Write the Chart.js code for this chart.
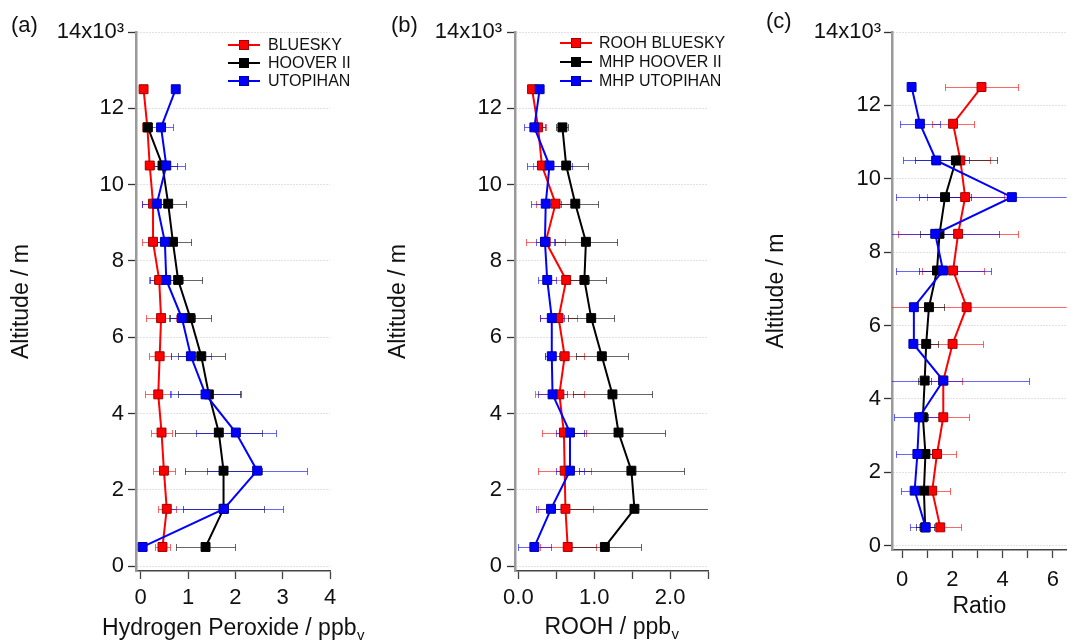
<!DOCTYPE html>
<html><head><meta charset="utf-8">
<script src="https://cdn.jsdelivr.net/npm/chart.js@4.4.1/dist/chart.umd.min.js"></script>
<style>
html,body{margin:0;padding:0;background:#fff;}
#wrap{position:relative;width:1074px;height:641px;overflow:hidden;background:#fff;}
canvas{position:absolute;left:0;top:0;}
</style></head><body>
<div id="wrap">
<canvas id="ca" width="1074" height="641"></canvas>
<canvas id="cb" width="1074" height="641"></canvas>
<canvas id="cc" width="1074" height="641"></canvas>
</div>
<script>
// ---------- DATA ----------
const altitude = [500, 1500, 2500, 3500, 4500, 5500, 6500, 7500, 8500, 9500, 10500, 11500, 12500];
const altTicks = [0, 2000, 4000, 6000, 8000, 10000, 12000, 14000];

// (a) Hydrogen peroxide / ppbv
const h2o2Labels = ['BLUESKY', 'HOOVER II', 'UTOPIHAN'];
const h2o2Bluesky     = [0.46, 0.55, 0.49, 0.44, 0.37, 0.40, 0.43, 0.39, 0.26, 0.26, 0.19, 0.14, 0.06];
const h2o2BlueskyErr  = [0.16, 0.19, 0.23, 0.23, 0.27, 0.23, 0.31, 0.21, 0.23, 0.23, 0.10, 0.08, 0];
const h2o2Hoover      = [1.37, 1.75, 1.75, 1.65, 1.44, 1.28, 1.05, 0.79, 0.68, 0.58, 0.46, 0.15, null];
const h2o2HooverErr   = [0.62, 0.85, 0.82, 0.92, 0.65, 0.50, 0.43, 0.50, 0.39, 0.37, 0.30, 0.05, null];
const h2o2Utopihan    = [0.04, 1.76, 2.46, 2.01, 1.37, 1.06, 0.87, 0.54, 0.51, 0.34, 0.54, 0.43, 0.74];
const h2o2UtopihanErr = [0, 1.25, 1.05, 0.84, 0.75, 0.42, 0.27, 0.35, 0.25, 0.31, 0.40, 0.26, 0];
const xTicksA = [0, 1, 2, 3, 4];

// (b) ROOH / ppbv
const roohLabels = ['ROOH BLUESKY', 'MHP HOOVER II', 'MHP UTOPIHAN'];
const roohBluesky     = [0.65, 0.62, 0.61, 0.60, 0.54, 0.61, 0.53, 0.63, 0.36, 0.49, 0.31, 0.26, 0.18];
const roohBlueskyErr  = [0.37, 0.36, 0.35, 0.29, 0.32, 0.26, 0.24, 0.30, 0.26, 0.26, 0.12, 0.10, 0];
const roohHoover      = [1.14, 1.53, 1.49, 1.32, 1.24, 1.10, 0.96, 0.87, 0.89, 0.75, 0.63, 0.58, null];
const roohHooverErr   = [0.47, 1.05, 0.69, 0.61, 0.52, 0.34, 0.30, 0.28, 0.41, 0.30, 0.29, 0.08, null];
const roohUtopihan    = [0.21, 0.43, 0.68, 0.68, 0.45, 0.44, 0.44, 0.38, 0.35, 0.36, 0.41, 0.21, 0.28];
const roohUtopihanErr = [0.22, 0.20, 0.18, 0.19, 0.19, 0.09, 0.16, 0.12, 0.12, 0.20, 0.30, 0.14, 0];
const xTicksB = [0, 0.5, 1, 1.5, 2, 2.5];

// (c) Ratio
const ratioLabels = ['BLUESKY', 'HOOVER II', 'UTOPIHAN'];
const ratioBluesky     = [1.52, 1.20, 1.39, 1.64, 1.64, 2.01, 2.57, 2.03, 2.23, 2.51, 2.32, 2.03, 3.16];
const ratioBlueskyErr  = [0.84, 0.71, 0.75, 1.03, 0.76, 1.22, 4.00, 1.24, 2.39, 1.53, 1.18, 0.84, 1.46];
const ratioHoover      = [0.92, 0.87, 0.93, 0.83, 0.90, 0.96, 1.07, 1.39, 1.49, 1.71, 2.14, null, null];
const ratioHooverErr   = [0.36, 0.30, 0.25, 0.20, 0.25, 0.48, 0.59, 0.71, 0.78, 1.03, 1.64, null, null];
const ratioUtopihan    = [0.94, 0.50, 0.61, 0.68, 1.64, 0.45, 0.47, 1.63, 1.32, 4.37, 1.36, 0.71, 0.38];
const ratioUtopihanErr = [0.64, 0.55, 0.84, 1.00, 3.41, 0, 0, 1.89, 2.55, 4.62, 1.31, 0.79, 0];
const xTicksC = [0, 1, 2, 3, 4, 5, 6];

// ---------- STYLE ----------
const FONT = "'Liberation Sans', Arial, sans-serif";
Chart.defaults.font.family = FONT;
Chart.defaults.color = '#111';

const COLORS = [
  {line: '#ff0000', pt: '#ff0000', ptBorder: '#a00000', err: 'rgba(255,0,0,0.6)'},
  {line: '#000000', pt: '#000000', ptBorder: '#000000', err: 'rgba(0,0,0,0.6)'},
  {line: '#0000ff', pt: '#0000ff', ptBorder: '#0000a0', err: 'rgba(0,0,255,0.6)'}
];

function series(label, vals, errs, idx) {
  const c = COLORS[idx];
  return {
    label,
    order: 3 - idx,
    data: altitude.map((a, i) => vals[i] == null ? null : {x: vals[i], y: a, err: errs[i]}).filter(Boolean),
    showLine: true,
    borderColor: c.line, backgroundColor: c.pt, borderWidth: 2,
    pointStyle: 'rect', pointRadius: 6.3, pointHoverRadius: 6.3,
    pointBackgroundColor: c.pt, pointBorderColor: c.ptBorder, pointBorderWidth: 1,
    tension: 0, fill: false,
    errColor: c.err
  };
}

const errorBarPlugin = {
  id: 'errorBars',
  beforeDatasetsDraw(chart) {
    const {ctx, chartArea} = chart;
    const xs = chart.scales.x, ys = chart.scales.y;
    ctx.save();
    ctx.beginPath();
    ctx.rect(chartArea.left, chartArea.top, chartArea.right - chartArea.left, chartArea.bottom - chartArea.top);
    ctx.clip();
    chart.data.datasets.forEach(ds => {
      ctx.strokeStyle = ds.errColor;
      ctx.lineWidth = 1;
      ds.data.forEach(p => {
        if (!p.err) return;
        const y = Math.round(ys.getPixelForValue(p.y)) + 0.5;
        const x1 = Math.round(xs.getPixelForValue(p.x - p.err)) + 0.5;
        const x2 = Math.round(xs.getPixelForValue(p.x + p.err)) + 0.5;
        ctx.beginPath();
        ctx.moveTo(x1, y); ctx.lineTo(x2, y);
        ctx.moveTo(x1, y - 3.5); ctx.lineTo(x1, y + 3.5);
        ctx.moveTo(x2, y - 3.5); ctx.lineTo(x2, y + 3.5);
        ctx.stroke();
      });
    });
    ctx.restore();
  }
};

const legendPlugin = {
  id: 'boxLegend',
  afterDraw(chart, args, opts) {
    if (!opts || !opts.show) return;
    const ctx = chart.ctx;
    ctx.save();
    ctx.font = '16px ' + FONT;
    ctx.textBaseline = 'middle';
    ctx.textAlign = 'left';
    chart.data.datasets.forEach((ds, i) => {
      const y = opts.rows[i];
      ctx.strokeStyle = ds.borderColor; ctx.lineWidth = 2;
      ctx.beginPath(); ctx.moveTo(opts.x0, y); ctx.lineTo(opts.x1, y); ctx.stroke();
      const cx = (opts.x0 + opts.x1) / 2;
      ctx.fillStyle = ds.pointBackgroundColor;
      ctx.fillRect(cx - 4.5, y - 4.5, 9, 9);
      ctx.strokeStyle = ds.pointBorderColor; ctx.lineWidth = 1;
      ctx.strokeRect(cx - 4.5, y - 4.5, 9, 9);
      ctx.fillStyle = '#111';
      ctx.fillText(ds.label, opts.tx, y + 1);
    });
    ctx.restore();
  }
};

const panelLabelPlugin = {
  id: 'panelLabel',
  afterDraw(chart, args, opts) {
    if (!opts || !opts.text) return;
    const ctx = chart.ctx;
    ctx.save();
    ctx.font = '22px ' + FONT;
    ctx.fillStyle = '#111';
    ctx.textBaseline = 'alphabetic';
    ctx.textAlign = 'left';
    ctx.fillText(opts.text, opts.x, opts.y);
    ctx.restore();
  }
};

// x-axis title with an optional subscript, centred under the chart area
const xTitlePlugin = {
  id: 'xTitle',
  afterDraw(chart, args, opts) {
    if (!opts || !opts.text) return;
    const ctx = chart.ctx;
    const ca = chart.chartArea;
    ctx.save();
    ctx.fillStyle = '#111';
    ctx.textBaseline = 'alphabetic';
    ctx.textAlign = 'left';
    const mainFont = '23px ' + FONT, subFont = '15px ' + FONT;
    ctx.font = mainFont;
    const w1 = ctx.measureText(opts.text).width;
    let w2 = 0;
    if (opts.sub) { ctx.font = subFont; w2 = ctx.measureText(opts.sub).width; }
    const x0 = (ca.left + ca.right) / 2 - (w1 + w2) / 2;
    ctx.font = mainFont;
    ctx.fillText(opts.text, x0, opts.y);
    if (opts.sub) { ctx.font = subFont; ctx.fillText(opts.sub, x0 + w1 + 0.5, opts.y + 5); }
    ctx.restore();
  }
};

function makePanel(id, p) {
  return new Chart(document.getElementById(id), {
    type: 'scatter',
    data: {datasets: p.datasets},
    plugins: [errorBarPlugin, legendPlugin, panelLabelPlugin, xTitlePlugin],
    options: {
      responsive: false, animation: false, devicePixelRatio: 1,
      layout: {padding: {left: p.padLeft, right: p.padRight, top: 32, bottom: 0}},
      plugins: {
        legend: {display: false}, tooltip: {enabled: false},
        boxLegend: p.legend, panelLabel: p.panel, xTitle: p.xTitle
      },
      scales: {
        x: {
          type: 'linear', min: p.xMin, max: p.xMax,
          afterBuildTicks: s => { s.ticks = p.xTicks.map(v => ({value: v})); },
          afterFit: s => { s.height = p.xH; },
          ticks: {font: {size: 22}, color: '#111', padding: p.xTickPad, maxRotation: 0, autoSkip: false, callback: p.xFmt},
          grid: {drawOnChartArea: false, color: '#444', tickColor: '#444', tickLength: 8, tickWidth: 1.3},
          border: {color: '#444', width: 1.5},
          title: {display: false}
        },
        y: {
          type: 'linear', min: p.yMin, max: 14000,
          afterBuildTicks: s => { s.ticks = altTicks.map(v => ({value: v})); },
          afterFit: s => { s.width = p.yW; },
          ticks: {font: {size: 22}, color: '#111', padding: p.yTickPad, autoSkip: false,
                  callback: v => v === 14000 ? '14x10\u00B3' : String(v / 1000)},
          grid: {color: '#c4c4c4', lineWidth: 1, tickColor: '#333', tickLength: 8, tickWidth: 1.3},
          border: {color: '#9a9a9a', width: 2.5, dash: [1, 2]},
          title: {display: true, text: 'Altitude / m', font: {size: 23}, color: '#111', padding: {top: 4, bottom: 4}}
        }
      }
    }
  });
}

makePanel('ca', {
  datasets: [
    series(h2o2Labels[0], h2o2Bluesky, h2o2BlueskyErr, 0),
    series(h2o2Labels[1], h2o2Hoover, h2o2HooverErr, 1),
    series(h2o2Labels[2], h2o2Utopihan, h2o2UtopihanErr, 2)
  ],
  padLeft: 4, padRight: 744, yW: 132, xH: 70, yMin: -130,
  xMin: -0.1, xMax: 4, xTicks: xTicksA, xFmt: v => String(v),
  xTickPad: 6, yTickPad: 4,
  xTitle: {text: 'Hydrogen Peroxide / ppb', sub: 'v', y: 635},
  legend: {show: true, x0: 228, x1: 260, tx: 268, rows: [45, 63, 81]},
  panel: {text: '(a)', x: 11, y: 32}
});

makePanel('cb', {
  datasets: [
    series(roohLabels[0], roohBluesky, roohBlueskyErr, 0),
    series(roohLabels[1], roohHoover, roohHooverErr, 1),
    series(roohLabels[2], roohUtopihan, roohUtopihanErr, 2)
  ],
  padLeft: 381, padRight: 366, yW: 134, xH: 70, yMin: -130,
  xMin: -0.045, xMax: 2.5, xTicks: xTicksB, xFmt: v => Number.isInteger(v) ? v.toFixed(1) : '',
  xTickPad: 6, yTickPad: 5,
  xTitle: {text: 'ROOH / ppb', sub: 'v', y: 634},
  legend: {show: true, x0: 560, x1: 592, tx: 599, rows: [43, 62, 81]},
  panel: {text: '(b)', x: 391, y: 32}
});

makePanel('cc', {
  datasets: [
    series(ratioLabels[0], ratioBluesky, ratioBlueskyErr, 0),
    series(ratioLabels[1], ratioHoover, ratioHooverErr, 1),
    series(ratioLabels[2], ratioUtopihan, ratioUtopihanErr, 2)
  ],
  padLeft: 759, padRight: 0, yW: 133, xH: 91, yMin: -117,
  xMin: -0.4, xMax: 6.55, xTicks: xTicksC, xFmt: v => (v % 2 === 0 ? String(v) : ''),
  xTickPad: 9, yTickPad: 3,
  xTitle: {text: 'Ratio', sub: '', y: 613},
  legend: {show: false},
  panel: {text: '(c)', x: 766, y: 28}
});
</script>
</body></html>
